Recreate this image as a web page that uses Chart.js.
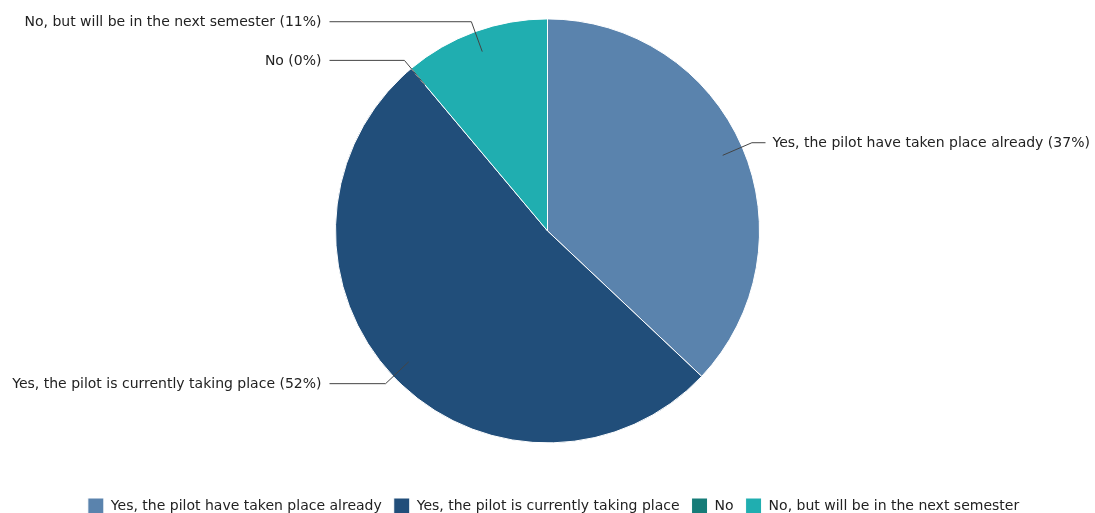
<!DOCTYPE html>
<html>
<head>
<meta charset="utf-8">
<script src="https://cdn.jsdelivr.net/npm/chart.js@4/dist/chart.umd.min.js"></script>
<style>
  html, body { margin: 0; padding: 0; background: #ffffff; }
  #wrap { width: 1095px; height: 513px; position: relative; }
</style>
</head>
<body>
<div id="wrap"><canvas id="pie"></canvas></div>
<script>
// Survey answers: has the pilot taken place?
const categories = [
  'Yes, the pilot have taken place already',
  'Yes, the pilot is currently taking place',
  'No',
  'No, but will be in the next semester'
];
const responses = [10, 14, 0, 3];
const sliceColors = ['#5a83ad', '#214e7a', '#167c78', '#20aeb0'];

const FONT = '"DejaVu Sans", Verdana, sans-serif';

// Callout labels with a leader line from inside each slice to a label column
const calloutPlugin = {
  id: 'callouts',
  afterLayout(chart) {
    // nudge the legend row slightly to the right
    if (chart.legend) {
      chart.legend.left += 6;
      chart.legend.right += 6;
    }
  },
  afterDatasetsDraw(chart) {
    const ctx = chart.ctx;
    const meta = chart.getDatasetMeta(0);
    const data = chart.data.datasets[0].data;
    const total = data.reduce((a, b) => a + b, 0);
    ctx.save();
    ctx.font = '14px ' + FONT;
    ctx.textBaseline = 'middle';
    meta.data.forEach((arc, i) => {
      const p = arc.getProps(['x', 'y', 'startAngle', 'endAngle', 'outerRadius'], true);
      const mid = (p.startAngle + p.endAngle) / 2;
      const cos = Math.cos(mid), sin = Math.sin(mid);
      const ax = p.x + cos * p.outerRadius * 0.9;
      const ay = p.y + sin * p.outerRadius * 0.9;
      const ex = p.x + cos * p.outerRadius * 1.05;
      const ey = p.y + sin * p.outerRadius * 1.05;
      const right = cos >= 0;
      const lx = right ? p.x + 218 : p.x - 218;
      ctx.strokeStyle = '#444444';
      ctx.lineWidth = 1;
      ctx.beginPath();
      ctx.moveTo(ax, ay);
      ctx.lineTo(ex, ey);
      ctx.lineTo(lx, ey);
      ctx.stroke();
      const pct = Math.round(data[i] / total * 100);
      const text = chart.data.labels[i] + ' (' + pct + '%)';
      ctx.fillStyle = '#222222';
      ctx.textAlign = right ? 'left' : 'right';
      ctx.fillText(text, right ? lx + 7 : lx - 8, ey + 1);
    });
    ctx.restore();
  }
};

new Chart(document.getElementById('pie'), {
  type: 'pie',
  data: {
    labels: categories,
    datasets: [{
      data: responses,
      backgroundColor: sliceColors,
      borderColor: '#ffffff',
      borderWidth: 1,
      radius: 212
    }]
  },
  options: {
    responsive: true,
    maintainAspectRatio: false,
    animation: false,
    layout: { padding: { top: 0, bottom: -11, left: 0, right: 0 } },
    plugins: {
      legend: {
        position: 'bottom',
        // blank title used as spacing above the legend row
        title: {
          display: true,
          text: '',
          font: { size: 1 },
          padding: { top: 11, bottom: 12 }
        },
        labels: {
          boxWidth: 16,
          boxHeight: 16,
          padding: 12,
          color: '#222222',
          font: { family: FONT, size: 14 }
        }
      },
      tooltip: { enabled: false }
    }
  },
  plugins: [calloutPlugin]
});
</script>
</body>
</html>
